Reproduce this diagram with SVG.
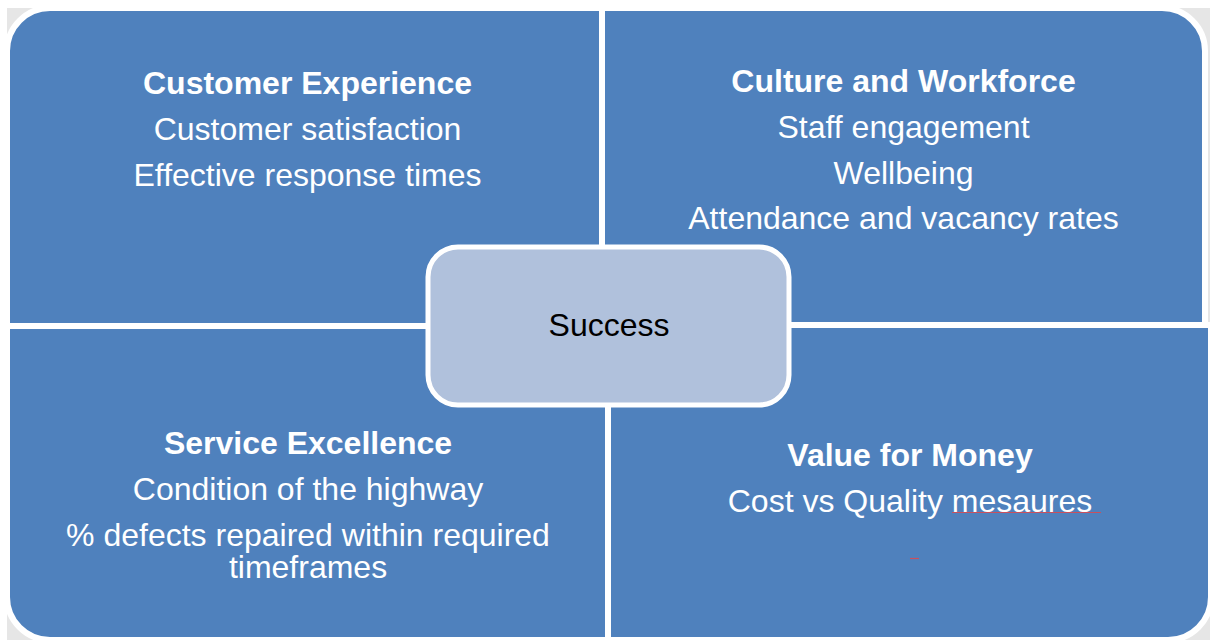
<svg xmlns="http://www.w3.org/2000/svg" width="1210" height="640" viewBox="0 0 1210 640">
  <style>
    .quad { fill: #4f81bd; stroke: #ffffff; stroke-width: 6; }
    .center { fill: #b0c1dc; stroke: #ffffff; stroke-width: 5; }
    text { font-family: "Liberation Sans", Arial, sans-serif; font-size: 32px; text-anchor: middle; fill: #ffffff; }
    .title { font-weight: bold; }
    .dark { fill: #000000; }
    .spell { stroke: #c8505e; stroke-width: 1.2; fill: none; }
  </style>
  <rect x="0" y="0" width="1210" height="640" fill="#ffffff"/>
  <rect x="7" y="8" width="1203" height="632" fill="#e6e6e6"/>

  <g id="customer-experience">
    <path class="quad" d="M7,51 A43,43 0 0 1 50,8 L603,8 L603,326 L7,326 Z"/>
    <text class="title" x="307.5" y="94">Customer Experience</text>
    <text x="307.5" y="140">Customer satisfaction</text>
    <text x="307.5" y="186">Effective response times</text>
  </g>

  <g id="culture-workforce">
    <path class="quad" d="M602,8 L1162,8 A43,43 0 0 1 1205,51 L1205,326 L602,326 Z"/>
    <text class="title" x="903.5" y="92">Culture and Workforce</text>
    <text x="903.5" y="138">Staff engagement</text>
    <text x="903.5" y="184">Wellbeing</text>
    <text x="903.5" y="229">Attendance and vacancy rates</text>
  </g>

  <g id="service-excellence">
    <path class="quad" d="M7,326 L609,326 L609,640 L50,640 A43,43 0 0 1 7,597 Z"/>
    <text class="title" x="308" y="454">Service Excellence</text>
    <text x="308" y="500">Condition of the highway</text>
    <text x="308" y="546">% defects repaired within required<tspan x="308" dy="32">timeframes</tspan></text>
  </g>

  <g id="value-for-money">
    <path class="quad" d="M608,325 L1211,325 L1211,597 A43,43 0 0 1 1168,640 L608,640 Z"/>
    <text class="title" x="910" y="466">Value for Money</text>
    <text x="910" y="512">Cost vs Quality mesaures </text>
    <line class="spell" x1="952" y1="512.5" x2="1101" y2="512.5"/>
    <line class="spell" x1="910" y1="558.5" x2="919" y2="558.5"/>
  </g>

  <g id="success">
    <rect class="center" x="428" y="247" width="361" height="158" rx="30" ry="30"/>
    <text class="dark" x="609" y="336">Success</text>
  </g>

  <g id="connectors"></g>
</svg>
